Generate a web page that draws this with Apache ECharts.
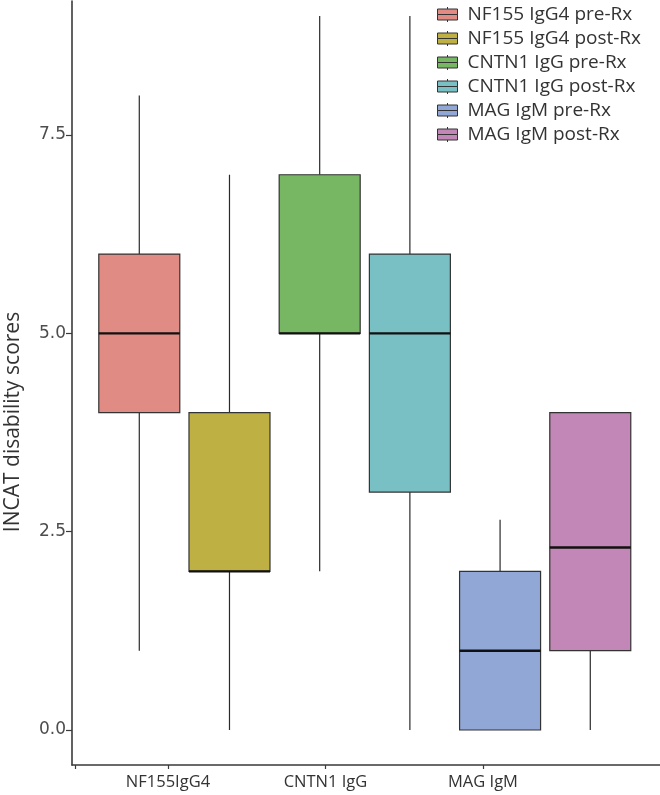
<!DOCTYPE html>
<html>
<head>
<meta charset="utf-8">
<script src="https://cdn.jsdelivr.net/npm/echarts@6/dist/echarts.min.js"></script>
<style>html,body{margin:0;padding:0;background:#fff}#c{width:660px;height:795px}</style>
</head>
<body>
<div id="c"></div>
<script>
// ---- data ----
const categories = ['NF155IgG4', 'CNTN1 IgG', 'MAG IgM'];
const seriesNames = ['NF155 IgG4 pre-Rx', 'NF155 IgG4 post-Rx', 'CNTN1 IgG pre-Rx', 'CNTN1 IgG post-Rx', 'MAG IgM pre-Rx', 'MAG IgM post-Rx'];
// [min, q1, median, q3, max]
const nf155Pre  = [1, 4, 5, 6, 8];
const nf155Post = [0, 2, 2, 4, 7];
const cntn1Pre  = [2, 5, 5, 7, 9];
const cntn1Post = [0, 3, 5, 6, 9];
const magPre    = [0, 0, 1, 2, 2.65];
const magPost   = [0, 1, 2.3, 4, 4];
const yTickValues = [0, 2.5, 5, 7.5];
const colors = ['#E08B83', '#BEB043', '#77B763', '#79C0C5', '#91A8D6', '#C287B6'];

const boxes = [nf155Pre, nf155Post, cntn1Pre, cntn1Post, magPre, magPost];

function renderBox(params, api) {
  const x = api.value(0);
  const vMin = api.value(1), q1 = api.value(2), med = api.value(3), q3 = api.value(4), vMax = api.value(5);
  const half = api.size([0.898, 0])[0] / 2;
  const pMin = api.coord([x, vMin]);
  const pQ1 = api.coord([x, q1]);
  const pMed = api.coord([x, med]);
  const pQ3 = api.coord([x, q3]);
  const pMax = api.coord([x, vMax]);
  const cx = pMin[0];
  const children = [];
  const lineStyle = { stroke: '#2a2a2a', lineWidth: 1.2 };
  if (vMin < q1) children.push({ type: 'line', shape: { x1: cx, y1: pMin[1], x2: cx, y2: pQ1[1] }, style: lineStyle });
  if (vMax > q3) children.push({ type: 'line', shape: { x1: cx, y1: pQ3[1], x2: cx, y2: pMax[1] }, style: lineStyle });
  children.push({ type: 'rect', shape: { x: cx - half, y: pQ3[1], width: 2 * half, height: pQ1[1] - pQ3[1] },
    style: { fill: api.visual('color'), stroke: '#333', lineWidth: 1.2 } });
  children.push({ type: 'line', shape: { x1: cx - half, y1: pMed[1], x2: cx + half, y2: pMed[1] },
    style: { stroke: '#111', lineWidth: 2.4 } });
  return { type: 'group', children: children };
}

const series = boxes.map((b, i) => ({
  name: seriesNames[i],
  type: 'custom',
  xAxisIndex: 1,
  yAxisIndex: 0,
  itemStyle: { color: colors[i] },
  encode: { x: 0, y: [1, 2, 3, 4, 5] },
  data: [[i].concat(b)],
  renderItem: renderBox
}));

const chart = echarts.init(document.getElementById('c'), null, { renderer: 'canvas' });
chart.setOption({
  animation: false,
  backgroundColor: '#fff',
  color: colors,
  grid: { left: 72, right: 0, top: 1, bottom: 30, containLabel: false },
  legend: {
    orient: 'vertical',
    left: 437,
    top: 5,
    padding: 0,
    itemWidth: 20,
    itemHeight: 15,
    itemGap: 5,
    icon: 'path://M10,0L10,2M0,2L20,2L20,7.5L0,7.5ZM0,7.5L20,7.5L20,13L0,13ZM10,13L10,15',
    itemStyle: { borderColor: '#333', borderWidth: 1 },
    textStyle: { fontFamily: 'Open Sans', fontSize: 19, color: '#333', lineHeight: 15, padding: [0, 0, 0, 5] },
    data: seriesNames
  },
  xAxis: [
    {
      type: 'value',
      min: 0.3905,
      max: 4.124,
      splitLine: { show: false },
      axisLine: { show: true, onZero: false, lineStyle: { color: '#3a3a3a', width: 1.6 } },
      axisTick: { show: true, length: 4, customValues: [0.41, 1, 2, 3], lineStyle: { color: '#3a3a3a', width: 1.2 } },
      axisLabel: {
        show: true, margin: 9, customValues: [1, 2, 3],
        fontFamily: 'Open Sans', fontSize: 16.5, color: '#333',
        formatter: v => categories[Math.round(v) - 1] || ''
      }
    },
    {
      type: 'value',
      min: -0.746,
      max: 5.773,
      show: false
    }
  ],
  yAxis: [{
    type: 'value',
    min: -0.441,
    max: 9.19,
    splitLine: { show: false },
    axisLine: { show: true, onZero: false, lineStyle: { color: '#3a3a3a', width: 1.6 } },
    axisTick: { show: true, length: 6, customValues: yTickValues, lineStyle: { color: '#3a3a3a', width: 1.2 } },
    axisLabel: {
      show: true, margin: 6, customValues: yTickValues,
      fontFamily: 'DejaVu Sans', fontSize: 17, color: '#4d4d4d',
      formatter: v => v.toFixed(1)
    }
  }],
  graphic: [{
    type: 'text',
    x: 13,
    y: 422,
    rotation: Math.PI / 2,
    style: {
      text: 'INCAT disability scores',
      fontFamily: 'Open Sans', fontSize: 21, fill: '#333',
      align: 'center', verticalAlign: 'middle'
    }
  }],
  series: series
});
</script>
</body>
</html>
